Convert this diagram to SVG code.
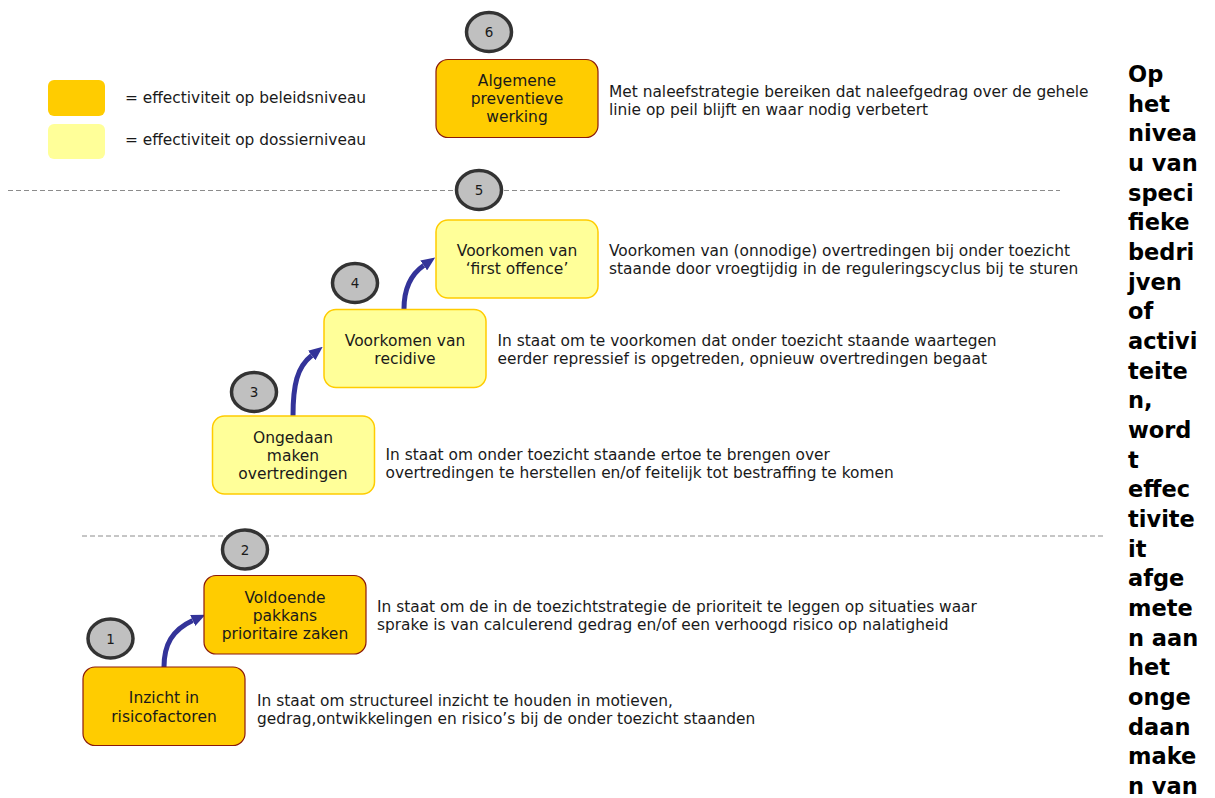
<svg xmlns="http://www.w3.org/2000/svg" width="1215" height="798" viewBox="0 0 1215 798">
<style>
text{font-family:"DejaVu Sans","Verdana",sans-serif;fill:#1a1a1a}
.t{font-size:15.5px;text-anchor:middle}
.d{font-size:15.4px}
.n{font-size:13.5px;text-anchor:middle}
.side{font-size:22.5px;font-weight:bold;fill:#000}
.dark{fill:#FFCC00;stroke:#8B1A0A;stroke-width:1.2}
.light{fill:#FFFF99;stroke:#FFCC00;stroke-width:1.5}
.num{fill:#C0C0C0;stroke:#333;stroke-width:3.5}
.dash{stroke:#8c8c8c;stroke-width:1;stroke-dasharray:5 3;fill:none}
.arr{fill:none;stroke:#333399;stroke-width:5;marker-end:url(#ah)}
</style>
<defs>
<marker id="ah" viewBox="0 0 14 12" refX="0" refY="6" markerWidth="14" markerHeight="12" markerUnits="userSpaceOnUse" orient="auto">
<path d="M0,0 L14,6 L0,12 z" fill="#333399"/>
</marker>
</defs>
<rect width="1215" height="798" fill="#fff"/>

<g id="legend">
<rect x="48" y="80" width="57" height="36" rx="6" fill="#FFCC00"/>
<rect x="48" y="124" width="57" height="35" rx="6" fill="#FFFF99"/>
<text class="d" x="125" y="103">= effectiviteit op beleidsniveau</text>
<text class="d" x="125" y="145">= effectiviteit op dossierniveau</text>
</g>

<g id="dividers">
<line class="dash" x1="8" y1="190.5" x2="1060" y2="190.5"/>
<line class="dash" x1="82" y1="536" x2="1103" y2="536"/>
</g>

<g id="connectors">
<path class="arr" d="M164,667 C164,645 172,630 192.7,620.5"/>
<path class="arr" d="M293,416 C293,385 297,367 311.7,355.5"/>
<path class="arr" d="M404,309 C404,290 410,275 423.7,265.5"/>
</g>

<g id="node6">
<rect class="dark" x="436" y="59.5" width="162" height="78" rx="12"/>
<text class="t" x="517" y="86">Algemene</text>
<text class="t" x="517" y="104">preventieve</text>
<text class="t" x="517" y="122">werking</text>
<ellipse class="num" cx="489" cy="32" rx="22.5" ry="19.5"/>
<text class="n" x="489" y="37">6</text>
<text class="d" x="609" y="97">Met naleefstrategie bereiken dat naleefgedrag over de gehele</text>
<text class="d" x="609" y="115">linie op peil blijft en waar nodig verbetert</text>
</g>

<g id="node5">
<rect class="light" x="436" y="220" width="162" height="78" rx="12"/>
<text class="t" x="517" y="256">Voorkomen van</text>
<text class="t" x="517" y="274">‘first offence’</text>
<ellipse class="num" cx="479" cy="190" rx="22.5" ry="19.5"/>
<text class="n" x="479" y="195">5</text>
<text class="d" x="609" y="256">Voorkomen van (onnodige) overtredingen bij onder toezicht</text>
<text class="d" x="609" y="274">staande door vroegtijdig in de reguleringscyclus bij te sturen</text>
</g>

<g id="node4">
<rect class="light" x="324" y="309.5" width="162" height="78" rx="12"/>
<text class="t" x="405" y="345.5">Voorkomen van</text>
<text class="t" x="405" y="364">recidive</text>
<ellipse class="num" cx="355" cy="283" rx="22.5" ry="19.5"/>
<text class="n" x="355" y="288">4</text>
<text class="d" x="497.5" y="345.5">In staat om te voorkomen dat onder toezicht staande waartegen</text>
<text class="d" x="497.5" y="364">eerder repressief is opgetreden, opnieuw overtredingen begaat</text>
</g>

<g id="node3">
<rect class="light" x="212.5" y="416" width="162" height="78" rx="12"/>
<text class="t" x="293" y="443">Ongedaan</text>
<text class="t" x="293" y="461">maken</text>
<text class="t" x="293" y="479">overtredingen</text>
<ellipse class="num" cx="254" cy="392" rx="22.5" ry="19.5"/>
<text class="n" x="254" y="397">3</text>
<text class="d" x="385.5" y="460">In staat om onder toezicht staande ertoe te brengen over</text>
<text class="d" x="385.5" y="478">overtredingen te herstellen en/of feitelijk tot bestraffing te komen</text>
</g>

<g id="node2">
<rect class="dark" x="204" y="575.5" width="162" height="78.5" rx="12"/>
<text class="t" x="285" y="602.5">Voldoende</text>
<text class="t" x="285" y="621">pakkans</text>
<text class="t" x="285" y="639">prioritaire zaken</text>
<ellipse class="num" cx="245" cy="549.5" rx="22.5" ry="19.5"/>
<text class="n" x="245" y="554.5">2</text>
<text class="d" x="377" y="611.5">In staat om de in de toezichtstrategie de prioriteit te leggen op situaties waar</text>
<text class="d" x="377" y="629.5">sprake is van calculerend gedrag en/of een verhoogd risico op nalatigheid</text>
</g>

<g id="node1">
<rect class="dark" x="83" y="667" width="162" height="78.5" rx="12"/>
<text class="t" x="164" y="703">Inzicht in</text>
<text class="t" x="164" y="722">risicofactoren</text>
<ellipse class="num" cx="110.5" cy="638.5" rx="22.5" ry="19.5"/>
<text class="n" x="110.5" y="643.5">1</text>
<text class="d" x="257" y="706">In staat om structureel inzicht te houden in motieven,</text>
<text class="d" x="257" y="724">gedrag,ontwikkelingen en risico’s bij de onder toezicht staanden</text>
</g>

<g id="sidetext">
<text class="side" x="1128" y="82">Op</text>
<text class="side" x="1128" y="111.7">het</text>
<text class="side" x="1128" y="141.3">nivea</text>
<text class="side" x="1128" y="171">u van</text>
<text class="side" x="1128" y="200.7">speci</text>
<text class="side" x="1128" y="230.4">fieke</text>
<text class="side" x="1128" y="260">bedri</text>
<text class="side" x="1128" y="289.7">jven</text>
<text class="side" x="1128" y="319.4">of</text>
<text class="side" x="1128" y="349">activi</text>
<text class="side" x="1128" y="378.7">teite</text>
<text class="side" x="1128" y="408.4">n,</text>
<text class="side" x="1128" y="438">word</text>
<text class="side" x="1128" y="467.7">t</text>
<text class="side" x="1128" y="497.4">effec</text>
<text class="side" x="1128" y="527">tivite</text>
<text class="side" x="1128" y="556.7">it</text>
<text class="side" x="1128" y="586.4">afge</text>
<text class="side" x="1128" y="616">mete</text>
<text class="side" x="1128" y="645.7">n aan</text>
<text class="side" x="1128" y="675.4">het</text>
<text class="side" x="1128" y="705">onge</text>
<text class="side" x="1128" y="734.7">daan</text>
<text class="side" x="1128" y="764.4">make</text>
<text class="side" x="1128" y="794">n van</text>
</g>
</svg>
